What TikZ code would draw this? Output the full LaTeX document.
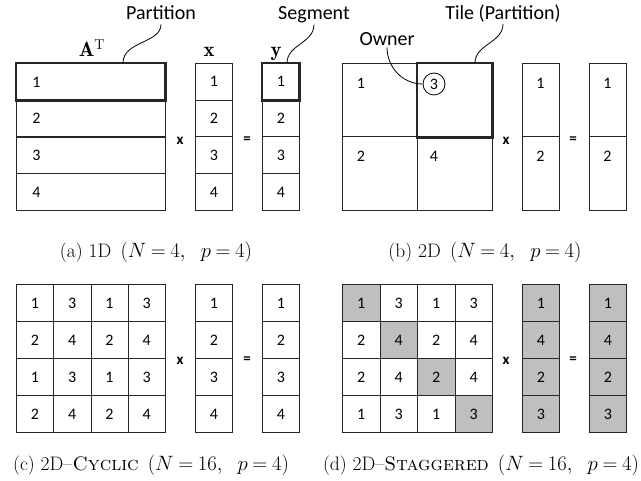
\documentclass[tikz,border=0pt]{standalone}
\usepackage{fontspec}
\newfontfamily\calib{Carlito}
\usetikzlibrary{positioning}
\newcommand{\capfont}{\fontsize{19.5}{20}\selectfont\thickmuskip=4mu\relax}
\tikzset{
 cell/.style={draw=black!85, line width=0.8pt, minimum width=37pt, minimum height=37pt,
   inner sep=0pt, anchor=north west, font=\calib\fontsize{16}{16}\selectfont},
 rowcell/.style={cell, minimum width=149pt, text width=117pt, inner xsep=16pt, align=left},
 bigcell/.style={cell, minimum width=75pt, minimum height=73.5pt},
 tallcell/.style={cell, minimum height=73.5pt},
 num/.style={font=\calib\fontsize{16}{16}\selectfont, inner sep=0pt},
 op/.style={font=\calib\bfseries\fontsize{15}{15}\selectfont, inner sep=0pt},
 callout/.style={font=\calib\fontsize{20}{20}\selectfont, inner sep=1pt, anchor=base},
 lead/.style={line width=0.8pt},
 tile/.style={line width=2.8pt, draw=black!85},
 mlabel/.style={font=\huge, anchor=base, inner sep=0pt},
 caption/.style={font=\capfont, anchor=base, inner sep=0pt},
 owned/.style={fill=black!25},
}

\begin{document}
\begin{tikzpicture}[x=1pt, y=-1pt]
    \useasboundingbox (0,0) rectangle (641,481);

    % (a) 1D
    \foreach \i in {1,...,4} {
        \node[rowcell] (a\i) at (16,{63+36.75*(\i-1)}) {\i};
        \node[cell, minimum height=36.75pt] (ax\i) at (195,{63+36.75*(\i-1)}) {\i};
        \node[cell, minimum height=36.75pt] (ay\i) at (262,{63+36.75*(\i-1)}) {\i};
    }
    \draw[tile] (a1.north west) rectangle (a1.south east);
    \draw[tile] (ay1.north west) rectangle (ay1.south east);
    \node[op] (atimes) at (180,141) {x};
    \node[op] (aeq) at (247,140) {=};
    \node[mlabel] (amat) at (92,57) {$\mathbf{A}^{\mathrm{T}}$};
    \node[mlabel] (avecx) at (209,57) {$\mathbf{x}$};
    \node[mlabel] (avecy) at (276,57) {$\mathbf{y}$};
    \node[callout] (partlbl) at (161,20) {Partition};
    \node[callout] (seglbl) at (314,20) {Segment};
    \coordinate (parttip) at (123,63);
    \coordinate (segtip) at (287,63);
    \draw[lead, shorten >=3pt] (parttip) to[out=90, in=-90] (partlbl.south);
    \draw[lead] (segtip) to[out=90, in=-90] (seglbl.south);
    \node[caption] (capa) at (156,258) {(a) 1D\ \,$(N = 4,\ \ p = 4)$};

    % (b) 2D
    \node[bigcell] (b11) at (342,63) {};
    \node[bigcell] (b12) at (417,63) {};
    \node[bigcell] (b21) at (342,136.5) {};
    \node[bigcell] (b22) at (417,136.5) {};
    \node[num] (bn11) at ([shift={(19,20)}]b11.north west) {1};
    \node[num] (bn21) at ([shift={(19,20)}]b21.north west) {2};
    \node[num] (bn22) at ([shift={(17,20)}]b22.north west) {4};
    \draw[tile] (b12.north west) rectangle (b12.south east);
    \node[num, draw, circle, lead, minimum size=22pt] (own) at (434,84) {3};
    \foreach \i/\y in {1/63, 2/136.5} {
        \node[tallcell] (bx\i) at (522,\y) {};
        \node[tallcell] (by\i) at (589,\y) {};
        \node[num] (bxn\i) at ([shift={(18.5,20)}]bx\i.north west) {\i};
        \node[num] (byn\i) at ([shift={(18.5,20)}]by\i.north west) {\i};
    }
    \node[op] (btimes) at (506,141) {x};
    \node[op] (beq) at (573,140) {=};
    \node[callout] (ownlbl) at (387,46) {Owner};
    \node[callout] (tilelbl) at (503,20) {Tile (Partition)};
    \coordinate (tiletip) at (475,63);
    \draw[lead] (ownlbl.south) to[out=-90, in=180] (own.west);
    \draw[lead] (tiletip) to[out=90, in=-90] (tilelbl.south);
    \node[caption] (capb) at (485,258) {(b) 2D\ \,$(N = 4,\ \ p = 4)$};

    % (c) 2D-Cyclic
    \foreach \v [count=\k from 0] in {1,3,1,3,2,4,2,4,1,3,1,3,2,4,2,4} {
        \pgfmathtruncatemacro\r{div(\k,4)}
        \pgfmathtruncatemacro\c{mod(\k,4)}
        \node[cell, minimum width=37.25pt] (c\r\c) at ({16+37.25*\c},{284+37*\r}) {\v};
    }
    \foreach \v [count=\k from 0] in {1,2,3,4} {
        \node[cell] (cx\k) at (195,{284+37*\k}) {\v};
        \node[cell] (cy\k) at (262,{284+37*\k}) {\v};
    }
    \node[op] (ctimes) at (180,361) {x};
    \node[op] (ceq) at (247,360) {=};
    \node[caption] (capc) at (151,471) {(c) 2D--\textsc{Cyclic}\ \,$(N = 16,\ \ p = 4)$};

    % (d) 2D-Staggered
    \foreach \v [count=\k from 0] in {1,3,1,3,2,4,2,4,2,4,2,4,1,3,1,3} {
        \pgfmathtruncatemacro\r{div(\k,4)}
        \pgfmathtruncatemacro\c{mod(\k,4)}
        \pgfmathtruncatemacro\tint{\r==\c ? 25 : 0}
        \node[cell, minimum width=37.5pt, fill=black!\tint] (d\r\c) at ({342+37.5*\c},{284+37*\r}) {\v};
    }
    \foreach \v [count=\k from 0] in {1,4,2,3} {
        \node[cell, owned] (dx\k) at (522,{284+37*\k}) {\v};
        \node[cell, owned] (dy\k) at (589,{284+37*\k}) {\v};
    }
    \node[op] (dtimes) at (506,361) {x};
    \node[op] (deq) at (573,360) {=};
    \node[caption] (capd) at (481,471) {(d) 2D--\textsc{Staggered}\ \,$(N = 16,\ \ p = 4)$};
\end{tikzpicture}
\end{document}
